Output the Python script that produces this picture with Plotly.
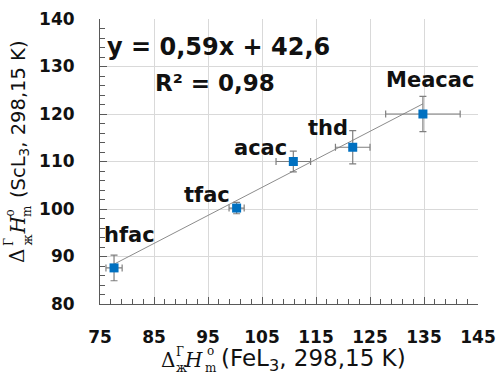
import plotly.graph_objects as go

# Ligand series and measured enthalpies (kJ/mol)
ligands = ["hfac", "tfac", "acac", "thd", "Meacac"]
h_fe = [77.6, 100.3, 110.8, 121.8, 134.8]      # FeL3
h_fe_err = [1.5, 1.4, 3.2, 3.2, 6.9]
h_sc = [87.6, 100.2, 110.0, 113.0, 120.0]      # ScL3
h_sc_err = [2.7, 1.2, 2.2, 3.5, 3.7]

# Linear trend
slope = 0.59
intercept = 42.6
r_squared = 0.98

x_ticks = [75, 85, 95, 105, 115, 125, 135, 145]
y_ticks = [80, 90, 100, 110, 120, 130, 140]

W, H = 498, 376
ML, MR, MT, MB = 100, 20, 19, 72
PW, PH = W - ML - MR, H - MT - MB

SANS = "DejaVu Sans"
SERIF = "DejaVu Serif"
GRAY = "#7f7f7f"
INK = "#111111"


def px(x):
    return (x - ML) / PW


def py(y):
    return (H - MB - y) / PH


fig = go.Figure()

# trend line across the data span
x0, x1 = min(h_fe), max(h_fe)
fig.add_trace(go.Scatter(
    x=[x0, x1], y=[slope * x0 + intercept, slope * x1 + intercept],
    mode="lines", line=dict(color="#8c8c8c", width=1), hoverinfo="skip",
    showlegend=False))

fig.add_trace(go.Scatter(
    x=h_fe, y=h_sc, mode="markers",
    marker=dict(symbol="square", size=9, color="#0070C0"),
    error_x=dict(type="data", array=h_fe_err, color=GRAY, thickness=1.2, width=3.5),
    error_y=dict(type="data", array=h_sc_err, color=GRAY, thickness=1.2, width=3.5),
    showlegend=False))

# point labels
label_shift = {"hfac": (15, 33), "tfac": (-30, 13), "acac": (-33, 14),
               "thd": (-25, 19), "Meacac": (7, 34)}
ann = []
for name, xv, yv in zip(ligands, h_fe, h_sc):
    dx, dy = label_shift[name]
    ann.append(dict(x=xv, y=yv, text=name, showarrow=False, xshift=dx, yshift=dy,
                    font=dict(family=SANS, size=21, color=INK, weight="bold")))

eq = "y = {:.2f}x + {:.1f}".format(slope, intercept).replace(".", ",")
r2 = "R² = {:.2f}".format(r_squared).replace(".", ",")
ann.append(dict(xref="paper", yref="paper", x=px(105), y=py(47), xanchor="left",
                yanchor="middle", text=eq, showarrow=False,
                font=dict(family=SANS, size=24, color=INK, weight="bold")))
ann.append(dict(xref="paper", yref="paper", x=px(153), y=py(83), xanchor="left",
                yanchor="middle", text=r2, showarrow=False,
                font=dict(family=SANS, size=23, color=INK, weight="bold")))


def piece(text, x, y, size, family, angle=0, xa="left", ya="middle", italic=False):
    t = "<i>" + text + "</i>" if italic else text
    ann.append(dict(xref="paper", yref="paper", x=px(x), y=py(y), text=t,
                    showarrow=False, xanchor=xa, yanchor=ya, textangle=angle,
                    borderpad=0, font=dict(family=family, size=size, color=INK)))


# x-axis title: Δ(Г over ж) H(o over m)(FeL3, 298,15 K)
piece("Δ", 160, 360, 20, SERIF)
piece("Г", 175, 352, 12, SERIF)
piece("ж", 175, 368, 12, SERIF)
piece("H", 183, 360, 20, SERIF, italic=True)
piece("o", 206, 351, 12, SERIF)
piece("m", 204, 368, 12, SERIF)
piece("(FeL<sub>3</sub>, 298,15 K)", 220, 360, 23, SANS)

# y-axis title, rotated
piece("Δ", 17, 264, 20, SERIF, angle=-90, xa="center", ya="bottom")
piece("Г", 9, 247, 12, SERIF, angle=-90, xa="center", ya="bottom")
piece("ж", 27, 247, 12, SERIF, angle=-90, xa="center", ya="bottom")
piece("H", 17, 236, 20, SERIF, angle=-90, xa="center", ya="bottom", italic=True)
piece("o", 9, 218, 12, SERIF, angle=-90, xa="center", ya="bottom")
piece("m", 27, 218, 12, SERIF, angle=-90, xa="center", ya="bottom")
piece("(ScL<sub>3</sub>, 298,15 K)", 19, 199, 19.5, SANS, angle=-90, xa="center", ya="bottom")

axis_common = dict(
    showgrid=True, gridcolor="#d9d9d9", gridwidth=1,
    showline=True, linecolor="#595959", linewidth=1,
    ticks="inside", ticklen=7, tickcolor="#595959", tickwidth=1,
    tickfont=dict(family=SANS, size=17, color=INK, weight="bold"),
    zeroline=False, fixedrange=True, automargin=False,
    minor=dict(ticks="inside", ticklen=5, tickcolor="#595959", dtick=2, showgrid=False),
)

fig.update_xaxes(range=[x_ticks[0], x_ticks[-1]], tickvals=x_ticks,
                 ticktext=[str(v) for v in x_ticks], ticklabelstandoff=18,
                 **axis_common)
fig.update_xaxes(minor=dict(tick0=x_ticks[0]))
fig.update_yaxes(range=[y_ticks[0], y_ticks[-1]], tickvals=y_ticks,
                 ticktext=[str(v) for v in y_ticks], ticklabelstandoff=21,
                 **axis_common)
fig.update_yaxes(minor=dict(tick0=y_ticks[0]))

fig.update_layout(
    width=W, height=H, margin=dict(l=ML, r=MR, t=MT, b=MB),
    paper_bgcolor="white", plot_bgcolor="white",
    annotations=ann, showlegend=False,
)

fig.write_html("out.html")
